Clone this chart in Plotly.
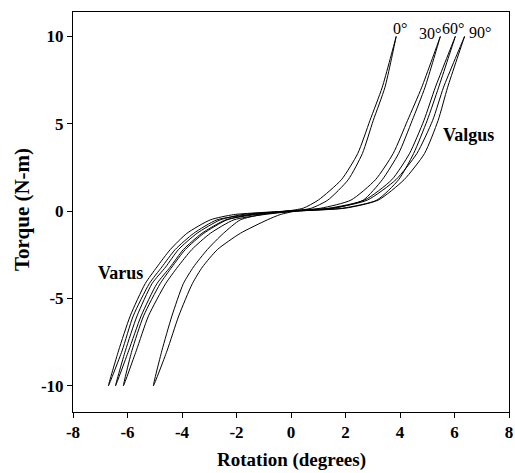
import plotly.graph_objects as go

torque = [-10, -8, -6, -4.15, -3.2, -2.2, -1.27, -0.5, -0.2, 0, 0.17, 0.63, 1.8, 3.3, 5.2, 7.1, 10]

# Rotation (degrees) for the two branches of each hysteresis loop
rot_0_a = [-5.05, -4.74, -4.37, -3.95, -3.58, -3.07, -2.48, -1.86, -1.10, -0.15, 0.45, 1.00, 1.85, 2.45, 2.90, 3.35, 3.86]
rot_0_b = [-5.05, -4.55, -4.12, -3.62, -3.25, -2.70, -1.86, -0.87, -0.40, 0.15, 0.75, 1.35, 2.10, 2.62, 3.02, 3.45, 3.86]

rot_30_a = [-6.15, -5.84, -5.41, -4.80, -4.37, -3.88, -3.20, -2.35, -1.50, -0.15, 1.10, 2.20, 3.10, 3.75, 4.28, 4.80, 5.48]
rot_30_b = [-6.15, -5.68, -5.23, -4.60, -4.16, -3.64, -2.96, -2.10, -1.00, 0.15, 1.60, 2.65, 3.35, 3.95, 4.45, 4.92, 5.48]

rot_60_a = [-6.44, -6.08, -5.65, -5.10, -4.60, -4.13, -3.45, -2.60, -1.80, -0.15, 1.40, 2.70, 3.70, 4.35, 4.88, 5.30, 6.03]
rot_60_b = [-6.44, -5.96, -5.50, -4.92, -4.43, -3.95, -3.27, -2.40, -1.30, 0.15, 1.90, 3.15, 3.95, 4.50, 5.00, 5.42, 6.03]

rot_90_a = [-6.70, -6.33, -5.90, -5.35, -4.92, -4.43, -3.82, -2.96, -2.10, -0.20, 1.50, 2.80, 3.85, 4.62, 5.20, 5.60, 6.37]
rot_90_b = [-6.70, -6.20, -5.79, -5.20, -4.74, -4.25, -3.57, -2.72, -1.50, 0.20, 2.00, 3.20, 4.15, 4.90, 5.40, 5.75, 6.37]

loops = [("0°", rot_0_a, rot_0_b), ("30°", rot_30_a, rot_30_b),
         ("60°", rot_60_a, rot_60_b), ("90°", rot_90_a, rot_90_b)]

curve_labels = ["0°", "30°", "60°", "90°"]
label_x = [4.0, 5.09, 5.95, 6.92]
label_y = [10.47, 10.18, 10.47, 10.2]

region_labels = ["Varus", "Valgus"]
region_x = [-6.26, 6.52]
region_y = [-3.55, 4.36]

x_ticks = [-8, -6, -4, -2, 0, 2, 4, 6, 8]
y_ticks = [-10, -5, 0, 5, 10]

fig = go.Figure()
for name, a, b in loops:
    xs = list(a) + list(b)[::-1]
    ys = list(torque) + list(torque)[::-1]
    fig.add_trace(go.Scatter(x=xs, y=ys, mode="lines", name=name,
                             line=dict(color="black", width=1, shape="spline", smoothing=0.6),
                             showlegend=False))

font_serif = "Liberation Serif, Times New Roman, serif"
for t, x, y in zip(curve_labels, label_x, label_y):
    fig.add_annotation(x=x, y=y, text=t, showarrow=False,
                       font=dict(family=font_serif, size=16, color="black"))
for t, x, y in zip(region_labels, region_x, region_y):
    fig.add_annotation(x=x, y=y, text="<b>%s</b>" % t, showarrow=False,
                       font=dict(family=font_serif, size=18, color="black"))

# axis titles
fig.add_annotation(xref="paper", yref="paper", x=0.5, y=-0.12, text="<b>Rotation (degrees)</b>",
                   showarrow=False, xanchor="center", yanchor="middle",
                   font=dict(family=font_serif, size=19, color="black"))
fig.add_annotation(xref="paper", yref="paper", x=-0.117, y=0.5075, text="<b>Torque (N-m)</b>",
                   showarrow=False, xanchor="center", yanchor="middle", textangle=-90,
                   font=dict(family=font_serif, size=21, color="black"))

axis_common = dict(showgrid=False, zeroline=False, showline=True, linecolor="black",
                   linewidth=1, mirror=True, ticks="outside", ticklen=5,
                   tickcolor="black", tickwidth=1, automargin=False,
                   tickfont=dict(family=font_serif, size=17, color="black"))

fig.update_xaxes(range=[-8, 8], tickvals=x_ticks,
                 ticktext=["<b>%d</b>" % v for v in x_ticks], **axis_common)
fig.update_yaxes(range=[-11.5, 11.4], tickvals=y_ticks,
                 ticktext=["<b>%d</b>" % v for v in y_ticks], **axis_common)

fig.update_layout(width=515, height=473, margin=dict(l=73, r=6, t=12, b=61),
                  plot_bgcolor="white", paper_bgcolor="white")

fig.write_html("out.html", config={"displayModeBar": False},
               post_script="document.body.style.margin='0';document.body.style.overflow='hidden';")
